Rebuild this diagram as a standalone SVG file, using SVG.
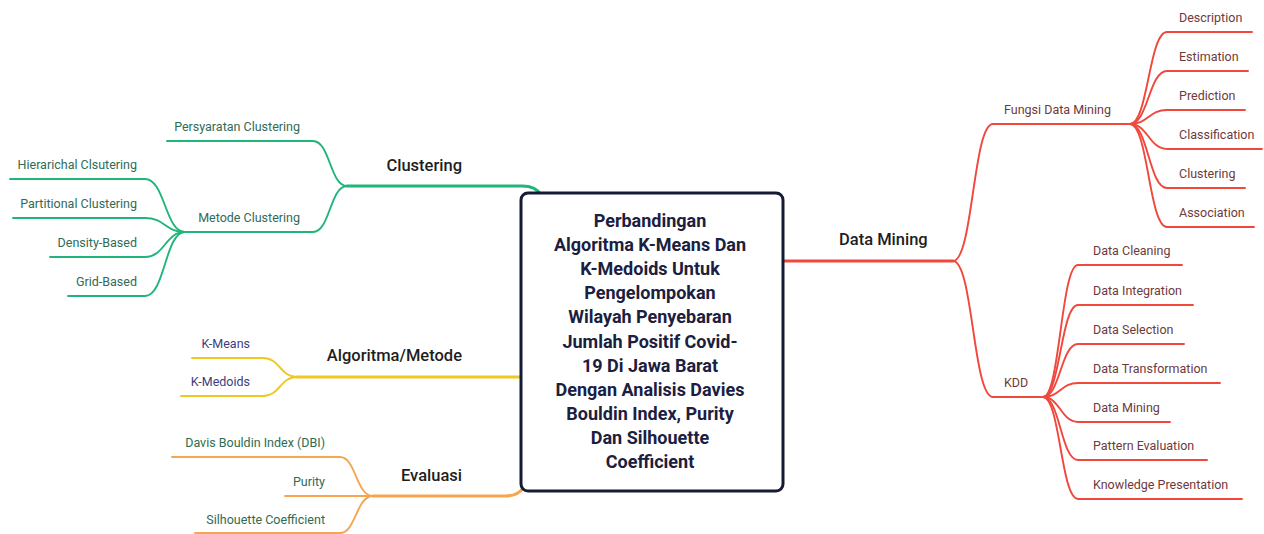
<svg xmlns="http://www.w3.org/2000/svg" width="1264" height="534" viewBox="0 0 1264 534">
<style>
  .lbl{font-family:Roboto,"Liberation Sans",sans-serif;font-size:12.5px}
  .main{font-family:Roboto,"Liberation Sans",sans-serif;font-size:16.5px;font-weight:500;fill:#1e1e1e}
  .ctr{font-family:Roboto,"Liberation Sans",sans-serif;font-size:18px;font-weight:700;fill:#1b2040;text-anchor:middle}
  .g{stroke:#22b57b;fill:none}
  .y{stroke:#f0c823;fill:none}
  .o{stroke:#f6a552;fill:none}
  .r{stroke:#f0483d;fill:none}
  .m{stroke-width:3.2;stroke-linecap:round}
  .s{stroke-width:1.9;stroke-linecap:round}
  .gt{fill:#2f6b57}
  .yt{fill:#3b3e7c}
  .ot{fill:#2f6b52}
  .rt{fill:#6e3a3c}
</style>
<g id="connectors">
  <!-- green -->
  <path class="g m" d="M541,195 Q536,186 522,186 L347,186"/>
  <path class="g s" d="M347,186 C330,186 330,141 313,141 L167,141"/>
  <path class="g s" d="M347,186 C330,186 330,232 313,232 L185,232"/>
  <path class="g s" d="M185,232 C165,232 165,179 145,179 L10,179"/>
  <path class="g s" d="M185,232 C165,232 165,218 145,218 L13,218"/>
  <path class="g s" d="M185,232 C165,232 165,257 145,257 L50,257"/>
  <path class="g s" d="M185,232 C165,232 165,296 145,296 L68,296"/>
  <!-- yellow -->
  <path class="y m" d="M521,377 L297,377"/>
  <path class="y s" d="M297,377 C280,377 280,358 263,358 L192,358"/>
  <path class="y s" d="M297,377 C280,377 280,396 263,396 L181,396"/>
  <!-- orange -->
  <path class="o m" d="M523,488 Q518,496 505,496 L373,496"/>
  <path class="o s" d="M373,496 C356,496 356,457 340,457 L172,457"/>
  <path class="o s" d="M373,496 L285,496"/>
  <path class="o s" d="M373,496 C356,496 356,533 340,533 L195,533"/>
  <!-- red -->
  <path class="r m" d="M783,261 L953,261"/>
  <path class="r s" d="M953,261 C973,261 973,124 993,124 L1130,124"/>
  <path class="r s" d="M953,261 C973,261 973,397 993,397 L1043,397"/>
  <path class="r s" d="M1130,124 C1148,124 1149,32 1167,32 L1252,32"/>
  <path class="r s" d="M1130,124 C1148,124 1149,71 1167,71 L1248,71"/>
  <path class="r s" d="M1130,124 C1148,124 1149,110 1167,110 L1245,110"/>
  <path class="r s" d="M1130,124 C1148,124 1149,149 1167,149 L1262,149"/>
  <path class="r s" d="M1130,124 C1148,124 1149,188 1167,188 L1245,188"/>
  <path class="r s" d="M1130,124 C1148,124 1149,227 1167,227 L1254,227"/>
  <path class="r s" d="M1043,397 C1060,397 1061,265 1078,265 L1182,265"/>
  <path class="r s" d="M1043,397 C1060,397 1061,305 1078,305 L1193,305"/>
  <path class="r s" d="M1043,397 C1060,397 1061,344 1078,344 L1184,344"/>
  <path class="r s" d="M1043,397 C1060,397 1061,383 1078,383 L1220,383"/>
  <path class="r s" d="M1043,397 C1060,397 1061,422 1078,422 L1170,422"/>
  <path class="r s" d="M1043,397 C1060,397 1061,460 1078,460 L1207,460"/>
  <path class="r s" d="M1043,397 C1060,397 1061,499 1078,499 L1242,499"/>
</g>
<g id="center">
  <rect x="521" y="193" width="262" height="298" rx="7" fill="#fff" stroke="#151a35" stroke-width="3"/>
  <text class="ctr" x="650" y="227">Perbandingan</text>
  <text class="ctr" x="650" y="251.1">Algoritma K-Means Dan</text>
  <text class="ctr" x="650" y="275.2">K-Medoids Untuk</text>
  <text class="ctr" x="650" y="299.3">Pengelompokan</text>
  <text class="ctr" x="650" y="323.4">Wilayah Penyebaran</text>
  <text class="ctr" x="650" y="347.5">Jumlah Positif Covid-</text>
  <text class="ctr" x="650" y="371.6">19 Di Jawa Barat</text>
  <text class="ctr" x="650" y="395.7">Dengan Analisis Davies</text>
  <text class="ctr" x="650" y="419.8">Bouldin Index, Purity</text>
  <text class="ctr" x="650" y="443.9">Dan Silhouette</text>
  <text class="ctr" x="650" y="468">Coefficient</text>
</g>
<g id="clustering">
  <text class="main" x="462" y="171" text-anchor="end">Clustering</text>
</g>
<g id="persyaratan"><text class="lbl gt" x="300" y="131" text-anchor="end">Persyaratan Clustering</text></g>
<g id="metode-clustering"><text class="lbl gt" x="300" y="222" text-anchor="end">Metode Clustering</text></g>
<g id="hierarichal"><text class="lbl gt" x="137" y="169" text-anchor="end">Hierarichal Clsutering</text></g>
<g id="partitional"><text class="lbl gt" x="137" y="208" text-anchor="end">Partitional Clustering</text></g>
<g id="density"><text class="lbl gt" x="137" y="247" text-anchor="end">Density-Based</text></g>
<g id="grid"><text class="lbl gt" x="137" y="286" text-anchor="end">Grid-Based</text></g>
<g id="algoritma">
  <text class="main" x="462" y="361" text-anchor="end">Algoritma/Metode</text>
</g>
<g id="kmeans"><text class="lbl yt" x="250" y="348" text-anchor="end">K-Means</text></g>
<g id="kmedoids"><text class="lbl yt" x="250" y="386" text-anchor="end">K-Medoids</text></g>
<g id="evaluasi">
  <text class="main" x="462" y="481" text-anchor="end">Evaluasi</text>
</g>
<g id="dbi"><text class="lbl ot" x="325" y="447" text-anchor="end">Davis Bouldin Index (DBI)</text></g>
<g id="purity"><text class="lbl ot" x="325" y="486" text-anchor="end">Purity</text></g>
<g id="silhouette"><text class="lbl ot" x="325" y="524" text-anchor="end">Silhouette Coefficient</text></g>
<g id="data-mining">
  <text class="main" x="839" y="245">Data Mining</text>
</g>
<g id="fungsi"><text class="lbl rt" x="1004" y="114">Fungsi Data Mining</text></g>
<g id="kdd"><text class="lbl rt" x="1004" y="387">KDD</text></g>
<g id="description"><text class="lbl rt" x="1179" y="22">Description</text></g>
<g id="estimation"><text class="lbl rt" x="1179" y="61">Estimation</text></g>
<g id="prediction"><text class="lbl rt" x="1179" y="100">Prediction</text></g>
<g id="classification"><text class="lbl rt" x="1179" y="139">Classification</text></g>
<g id="clustering2"><text class="lbl rt" x="1179" y="178">Clustering</text></g>
<g id="association"><text class="lbl rt" x="1179" y="217">Association</text></g>
<g id="data-cleaning"><text class="lbl rt" x="1093" y="255">Data Cleaning</text></g>
<g id="data-integration"><text class="lbl rt" x="1093" y="295">Data Integration</text></g>
<g id="data-selection"><text class="lbl rt" x="1093" y="334">Data Selection</text></g>
<g id="data-transformation"><text class="lbl rt" x="1093" y="373">Data Transformation</text></g>
<g id="data-mining2"><text class="lbl rt" x="1093" y="412">Data Mining</text></g>
<g id="pattern-evaluation"><text class="lbl rt" x="1093" y="450">Pattern Evaluation</text></g>
<g id="knowledge"><text class="lbl rt" x="1093" y="489">Knowledge Presentation</text></g>
</svg>
